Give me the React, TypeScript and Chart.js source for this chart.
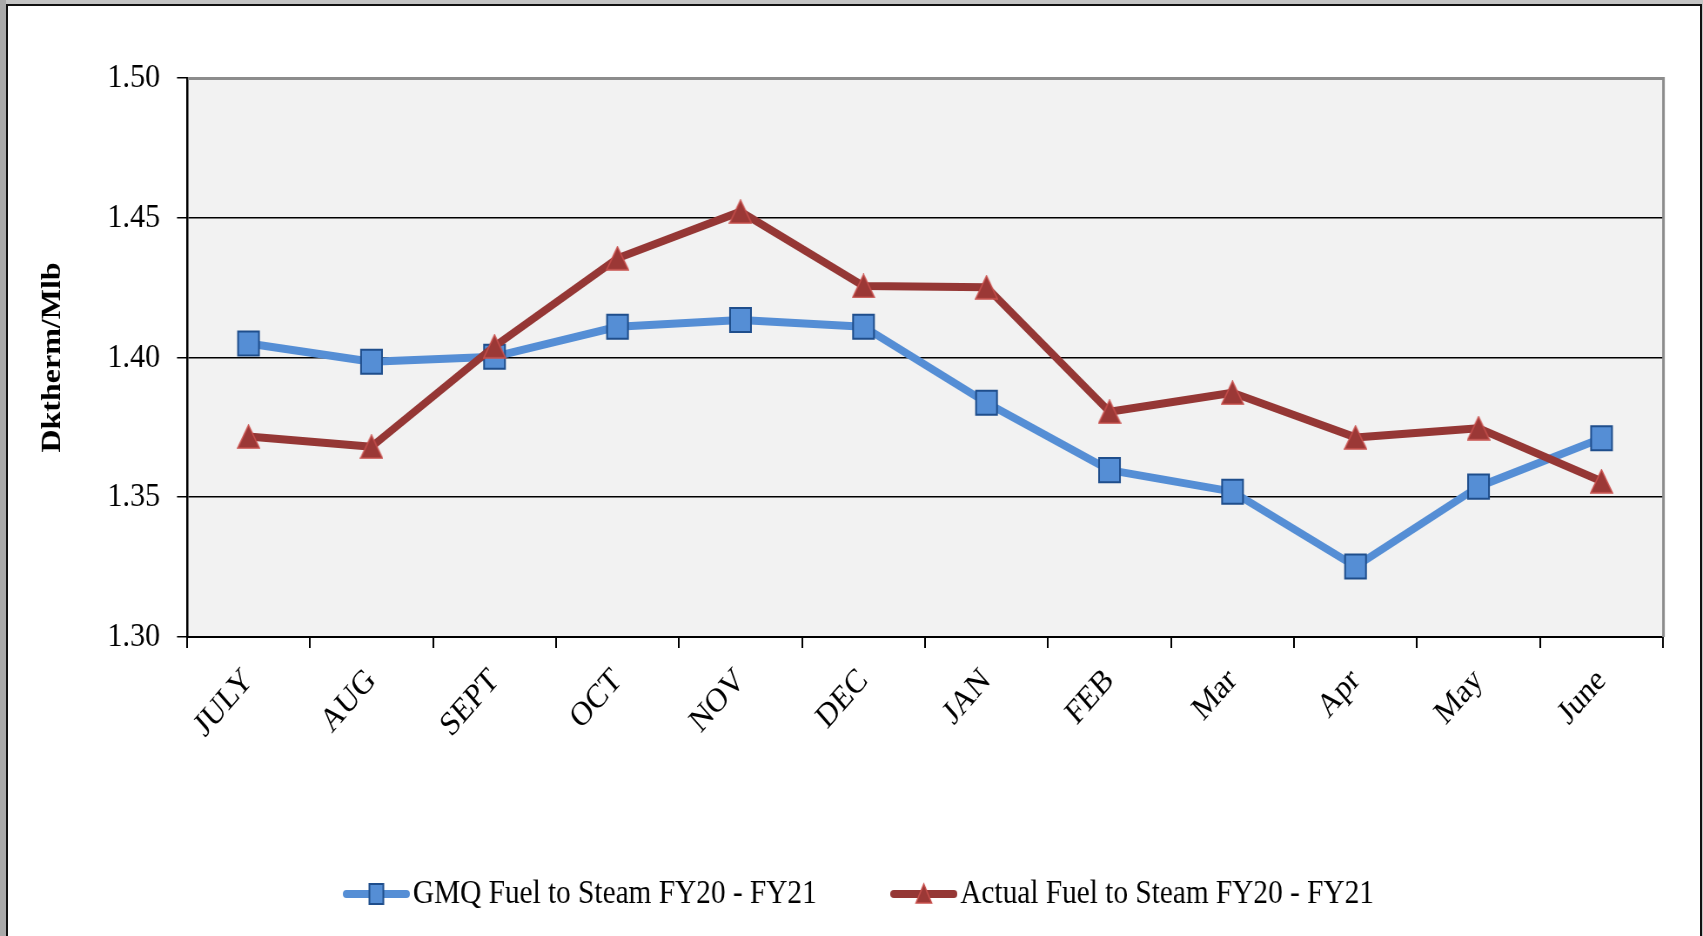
import React, { useEffect, useRef } from 'react';
import { Chart, registerables } from 'chart.js';

Chart.register(...registerables);

const categories = ['JULY', 'AUG', 'SEPT', 'OCT', 'NOV', 'DEC', 'JAN', 'FEB', 'Mar', 'Apr', 'May', 'June'];
const gmqValues = [1.405, 1.3985, 1.4003, 1.411, 1.4134, 1.411, 1.3838, 1.3597, 1.352, 1.3252, 1.3538, 1.3711];
const actualValues = [1.3717, 1.3681, 1.404, 1.4355, 1.4522, 1.4256, 1.4251, 1.3806, 1.3874, 1.3714, 1.3747, 1.3557];
const yTickValues = [1.3, 1.35, 1.4, 1.45, 1.5];
const seriesLabels = ['GMQ Fuel to Steam FY20 - FY21', 'Actual Fuel to Steam FY20 - FY21'];
const yTitle = 'Dktherm/Mlb';

const SX = 0.8702;
const CW = 1957;
const CH = 936;
const FONT = "'Liberation Serif', 'Times New Roman', serif";

const BLUE = '#558ED5';
const BLUE_EDGE = '#1F4E8C';
const RED = '#953735';
const RED_FILL = '#9B3836';
const RED_EDGE = '#C9514E';

function makeTriangle(w: number, h: number) {
  const c = document.createElement('canvas');
  c.width = w;
  c.height = h;
  const g = c.getContext('2d')!;
  g.beginPath();
  g.moveTo(w / 2, 1);
  g.lineTo(w - 1, h - 1);
  g.lineTo(1, h - 1);
  g.closePath();
  g.fillStyle = RED_FILL;
  g.fill();
  g.lineWidth = 1.5;
  g.strokeStyle = RED_EDGE;
  g.stroke();
  return c;
}

function makeLegendImg(kind: 'rect' | 'tri') {
  const w = 77;
  const h = 28;
  const c = document.createElement('canvas');
  c.width = w;
  c.height = h;
  const g = c.getContext('2d')!;
  g.lineCap = 'round';
  g.lineWidth = 8;
  g.strokeStyle = kind === 'rect' ? BLUE : RED;
  g.beginPath();
  g.moveTo(4, h / 2);
  g.lineTo(w - 4, h / 2);
  g.stroke();
  if (kind === 'rect') {
    g.fillStyle = BLUE;
    g.fillRect(w / 2 - 8, h / 2 - 10, 16, 20);
    g.lineWidth = 2;
    g.strokeStyle = BLUE_EDGE;
    g.strokeRect(w / 2 - 8, h / 2 - 10, 16, 20);
  } else {
    g.beginPath();
    g.moveTo(w / 2, h / 2 - 10);
    g.lineTo(w / 2 + 9, h / 2 + 9);
    g.lineTo(w / 2 - 9, h / 2 + 9);
    g.closePath();
    g.fillStyle = RED_FILL;
    g.fill();
    g.lineWidth = 1.5;
    g.strokeStyle = RED_EDGE;
    g.stroke();
  }
  return c;
}

const plotPlugin = {
  id: 'plotFrame',
  beforeDraw(chart: any) {
    const { ctx, chartArea: a } = chart;
    ctx.save();
    ctx.fillStyle = '#F2F2F2';
    ctx.fillRect(a.left, a.top, a.right - a.left, a.bottom - a.top);
    ctx.restore();
  },
  beforeDatasetsDraw(chart: any) {
    const { ctx, chartArea: a } = chart;
    ctx.save();
    ctx.strokeStyle = '#8C8C8C';
    ctx.lineWidth = 3;
    ctx.beginPath();
    ctx.moveTo(a.left + 1, a.top + 0.5);
    ctx.lineTo(a.right + 0.5, a.top + 0.5);
    ctx.lineTo(a.right + 0.5, a.bottom);
    ctx.stroke();
    ctx.restore();
  },
};

export default function App() {
  const ref = useRef<HTMLCanvasElement | null>(null);

  useEffect(() => {
    if (!ref.current) return;
    const tri = makeTriangle(27, 25);
    const legendImgs = [makeLegendImg('rect'), makeLegendImg('tri')];
    const near = (a: number, b: number) => Math.abs(a - b) < 1e-6;

    const chart = new Chart(ref.current, {
      type: 'line',
      data: {
        labels: categories,
        datasets: [
          {
            label: seriesLabels[0],
            data: gmqValues,
            borderColor: BLUE,
            backgroundColor: BLUE,
            borderWidth: 8,
            borderJoinStyle: 'round',
            borderCapStyle: 'round',
            tension: 0,
            pointStyle: 'rect',
            pointRadius: 17,
            pointBackgroundColor: BLUE,
            pointBorderColor: BLUE_EDGE,
            pointBorderWidth: 2,
            order: 2,
          },
          {
            label: seriesLabels[1],
            data: actualValues,
            borderColor: RED,
            backgroundColor: RED_FILL,
            borderWidth: 8,
            borderJoinStyle: 'round',
            borderCapStyle: 'round',
            tension: 0,
            pointStyle: tri as any,
            pointRadius: 12,
            order: 1,
          },
        ],
      },
      options: {
        responsive: false,
        animation: false,
        devicePixelRatio: 1,
        layout: { padding: { left: 75.2, right: 45.9, top: 78, bottom: 15.15 } },
        plugins: {
          tooltip: { enabled: false },
          legend: {
            display: true,
            position: 'bottom',
            align: 'center',
            labels: {
              usePointStyle: true,
              pointStyleWidth: 50.1,
              padding: 98,
              color: '#000',
              font: { family: FONT, size: 33.7 },
              generateLabels: (c: any) =>
                c.data.datasets.map((ds: any, i: number) => ({
                  text: ds.label,
                  pointStyle: legendImgs[i],
                  fillStyle: 'transparent',
                  strokeStyle: 'transparent',
                  lineWidth: 0,
                  hidden: false,
                  datasetIndex: i,
                  fontColor: '#000',
                })),
            },
          },
        },
        scales: {
          x: {
            type: 'category',
            offset: true,
            grid: {
              offset: true,
              drawOnChartArea: false,
              drawTicks: true,
              tickLength: 11,
              tickColor: '#000',
              color: '#000',
              lineWidth: 2,
            },
            border: { display: true, color: '#000', width: 2 },
            ticks: {
              color: '#000',
              font: { family: FONT, size: 34 },
              minRotation: 45,
              maxRotation: 45,
              autoSkip: false,
              padding: 13,
            },
            afterFit: (s: any) => {
              s.height = 142.15;
            },
          },
          y: {
            min: 1.3,
            max: 1.5,
            afterBuildTicks: (s: any) => {
              s.ticks = yTickValues.map((v) => ({ value: v }));
            },
            ticks: {
              color: '#000',
              font: { family: FONT, size: 34.5 },
              padding: 19.5,
              callback: (v: any) => Number(v).toFixed(2),
            },
            grid: {
              color: (c: any) => {
                const v = c.tick ? c.tick.value : null;
                if (v == null) return '#000';
                return near(v, 1.5) || near(v, 1.3) ? 'rgba(0,0,0,0)' : '#000';
              },
              tickColor: '#000',
              tickLength: 11.5,
              lineWidth: 1.5,
            },
            border: { display: true, color: '#000', width: 2.5 },
            title: {
              display: true,
              text: yTitle,
              color: '#000',
              font: { family: FONT, size: 32, weight: 'bold' },
              padding: { top: -33.5, bottom: 0 },
            },
            afterFit: (s: any) => {
              s.width = 139.7;
            },
          },
        },
      } as any,
      plugins: [plotPlugin],
    });
    return () => chart.destroy();
  }, []);

  return (
    <div
      style={{
        position: 'fixed',
        left: 0,
        top: 0,
        width: 1703,
        height: 936,
        background: '#C4C4C4',
        overflow: 'hidden',
      }}
    >
      <div style={{ position: 'absolute', left: 0, top: 0, width: 6, height: 936, background: '#A9A9A9' }} />
      <div
        style={{
          position: 'absolute',
          left: 6,
          top: 4,
          width: 1692,
          height: 940,
          background: '#fff',
          borderLeft: '2px solid #111',
          borderTop: '2px solid #111',
          borderRight: '2px solid #111',
        }}
      />
      <canvas
        ref={ref}
        width={CW}
        height={CH}
        style={{
          position: 'absolute',
          left: 0,
          top: 0,
          width: CW,
          height: CH,
          transform: `scaleX(${SX})`,
          transformOrigin: '0 0',
        }}
      />
    </div>
  );
}
